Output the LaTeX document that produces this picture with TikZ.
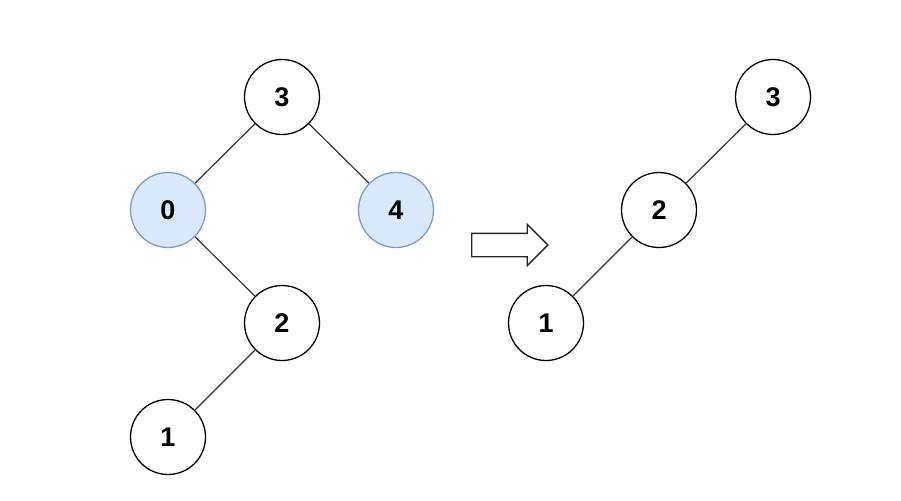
\documentclass[tikz,border=0pt]{standalone}
\usepackage{fontspec}
\setmainfont{Liberation Sans}
\usetikzlibrary{shapes.arrows}
\definecolor{delfill}{HTML}{DAE8FC}
\definecolor{deldraw}{HTML}{7E9CC8}

\begin{document}
\begin{tikzpicture}[x=1pt,y=-1pt,
  vert/.style={circle, draw=black, line width=1.3pt, fill=white, minimum size=75pt, inner sep=0pt, font=\fontsize{27}{27}\selectfont\bfseries},
  gone/.style={vert, fill=delfill, draw=deldraw},
  edge/.style={line width=1.2pt, draw=black!80}]
\useasboundingbox (0,0) rectangle (901,500);
% tree before
\node[vert] (a3) at (282,97) {3};
\node[gone] (a0) at (168,210) {0};
\node[gone] (a4) at (396,210) {4};
\node[vert] (a2) at (282,323) {2};
\node[vert] (a1) at (168,437) {1};
\draw[edge] (a3) -- (a0);
\draw[edge] (a3) -- (a4);
\draw[edge] (a0) -- (a2);
\draw[edge] (a2) -- (a1);
% arrow
\node[single arrow, draw=black!85, line width=1.3pt, fill=white, minimum width=40pt, single arrow head extend=9pt, single arrow tip angle=90, minimum height=76pt, inner xsep=0pt, inner ysep=11pt] (step) at (504,245) {};
% tree after
\node[vert] (b3) at (773,97) {3};
\node[vert] (b2) at (659,210) {2};
\node[vert] (b1) at (546,323) {1};
\draw[edge] (b3) -- (b2);
\draw[edge] (b2) -- (b1);
\end{tikzpicture}
\end{document}
